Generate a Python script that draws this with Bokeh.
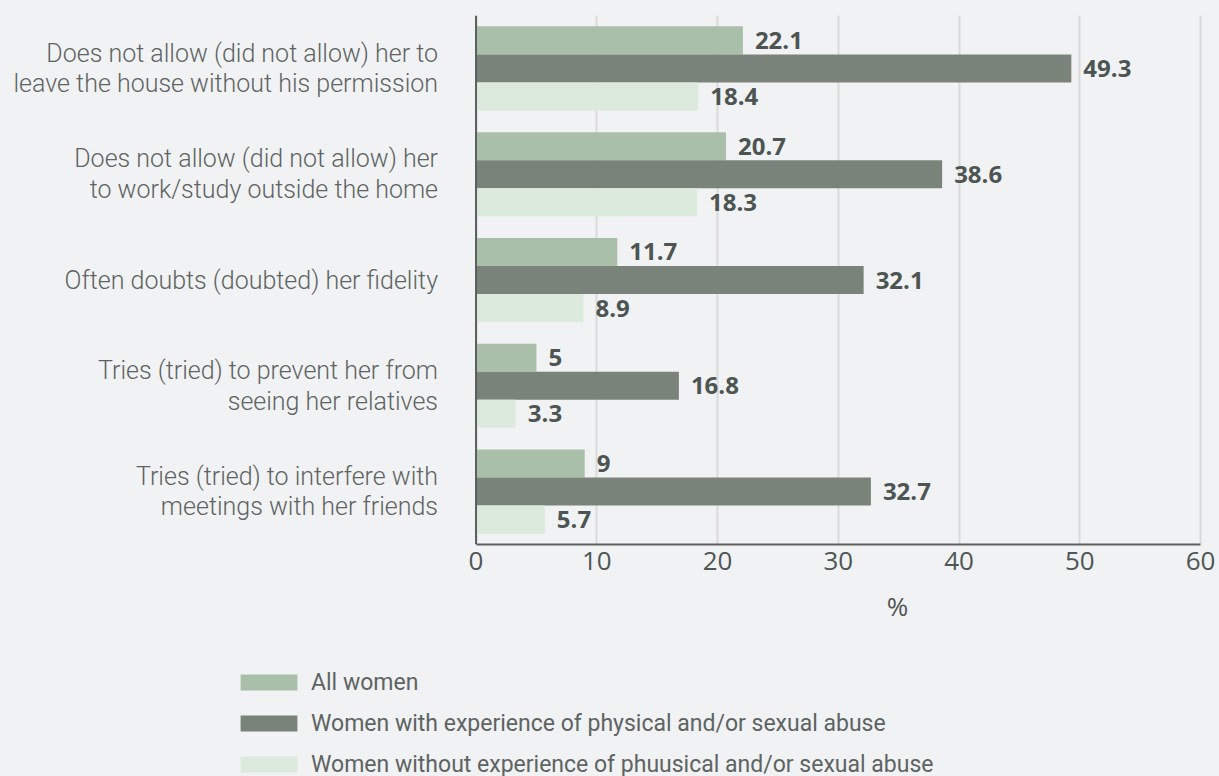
from bokeh.plotting import figure
from bokeh.layouts import column
from bokeh.models import (ColumnDataSource, FactorRange, Range1d, FixedTicker,
                          Legend, LegendItem, Label, Span)
from bokeh.transform import dodge
from bokeh.core.properties import value
from bokeh.embed import file_html
from bokeh.resources import INLINE

# ---------------- data ----------------
categories = [
    "Does not allow (did not allow) her to\nleave the house without his permission",
    "Does not allow (did not allow) her\nto work/study outside the home",
    "Often doubts (doubted) her fidelity",
    "Tries (tried) to prevent her from\nseeing her relatives",
    "Tries (tried) to interfere with\nmeetings with her friends",
]
all_women = [22.1, 20.7, 11.7, 5, 9]
with_abuse = [49.3, 38.6, 32.1, 16.8, 32.7]
without_abuse = [18.4, 18.3, 8.9, 3.3, 5.7]
series_names = [
    "All women",
    "Women with experience of physical and/or sexual abuse",
    "Women without experience of phuusical and/or sexual abuse",
]
x_ticks = [0, 10, 20, 30, 40, 50, 60]
x_title = "%"

# ---------------- style ----------------
BG = "#f1f2f4"
COLORS = ["#a9bfaa", "#7a837a", "#dbeadc"]
AXIS_COL = "#5b605e"
TEXT_COL = "#5d6462"
NUM_COL = "#4d5552"
TICK_COL = "#4f5755"
BAR_H = 0.265
W = 1219
H_MAIN = 587
H_LEG = 776 - H_MAIN
X_VIEW = (-39.38, 61.57)   # visible value range so that 0..60 sits at the chart area

fmt = lambda v: f"{v:g}"

src = ColumnDataSource(dict(
    cat=categories,
    a=all_women, b=with_abuse, c=without_abuse,
    la=[fmt(v) for v in all_women],
    lb=[fmt(v) for v in with_abuse],
    lc=[fmt(v) for v in without_abuse],
))

p = figure(
    width=W, height=H_MAIN,
    y_range=FactorRange(factors=list(reversed(categories)), range_padding=0),
    x_range=Range1d(*X_VIEW), y_axis_location=None,
    output_backend="svg", toolbar_location=None,
    min_border_left=0, min_border_right=0,
    min_border_top=15, min_border_bottom=H_MAIN - 544,
    styles={"background-color": BG},
)
p.background_fill_color = BG
p.border_fill_color = BG
p.outline_line_color = None

for col, lab, off, color in [("a", "la", BAR_H, COLORS[0]),
                             ("b", "lb", 0.0, COLORS[1]),
                             ("c", "lc", -BAR_H, COLORS[2])]:
    ypos = dodge("cat", off, range=p.y_range)
    p.hbar(y=ypos, left=0, right=col, height=BAR_H, source=src,
           fill_color=color, line_color=None)
    p.text(x=col, y=ypos, text=lab, source=src, x_offset=12,
           text_align="left", text_baseline="middle",
           text_font=value("Open Sans"), text_font_style="bold",
           text_font_size=value("24px"), text_color=NUM_COL)

# category labels, right-aligned left of the value axis
p.text(x=0, y="cat", text="cat", source=src, x_offset=-38,
       text_align="right", text_baseline="middle", text_line_height=1.06,
       text_font=value("Roboto Light"), text_font_size=value("25px"),
       text_color=TEXT_COL)

# value axis line at 0
p.add_layout(Span(location=0, dimension="height", line_color=AXIS_COL, line_width=2))

# x axis
p.xaxis.ticker = FixedTicker(ticks=x_ticks)
p.xaxis.bounds = (x_ticks[0], x_ticks[-1])
p.xaxis.axis_line_color = AXIS_COL
p.xaxis.axis_line_width = 2
p.xaxis.major_tick_line_color = None
p.xaxis.minor_tick_line_color = None
p.xaxis.major_tick_out = 0
p.xaxis.major_label_standoff = 7
p.xaxis.major_label_text_font = "Open Sans"
p.xaxis.major_label_text_font_size = "26px"
p.xaxis.major_label_text_color = TICK_COL

p.xgrid.grid_line_color = "#dadada"
p.xgrid.grid_line_width = 2
p.ygrid.grid_line_color = None

# ---------------- lower panel: axis title + legend ----------------
q = figure(
    width=W, height=H_LEG, x_range=Range1d(0, 1), y_range=Range1d(0, 1),
    x_axis_location=None, y_axis_location=None,
    output_backend="svg", toolbar_location=None,
    min_border_left=0, min_border_right=0,
    min_border_top=0, min_border_bottom=0,
    styles={"background-color": BG},
)
q.background_fill_color = BG
q.border_fill_color = BG
q.outline_line_color = None
q.grid.visible = False
q.xgrid.visible = False
q.ygrid.visible = False

q.add_layout(Label(x=897, x_units="screen", y=H_LEG - 18, y_units="screen",
                   text=x_title, text_align="center", text_baseline="middle",
                   text_font="Open Sans", text_font_size="26px",
                   text_color=TICK_COL))

# legend swatches (hidden renderers that only feed the legend)
swatches = []
for col, color in zip(["a", "b", "c"], COLORS):
    r = q.hbar(y=0, left=0, right=col, height=0.1, source=src,
               fill_color=color, line_color=None, visible=False)
    swatches.append(r)

legend = Legend(
    items=[LegendItem(label=n, renderers=[r]) for n, r in zip(series_names, swatches)],
    location=(233, -2), orientation="vertical",
    glyph_width=71, glyph_height=20, label_height=28, spacing=13,
    label_standoff=7, padding=0, margin=0,
    label_text_font="Roboto", label_text_font_size="23px",
    label_text_color=TEXT_COL, border_line_color=None,
    background_fill_alpha=0,
)
q.add_layout(legend)

layout = column(p, q, spacing=0, styles={"background-color": BG})
open("out.html", "w").write(file_html(layout, INLINE))
